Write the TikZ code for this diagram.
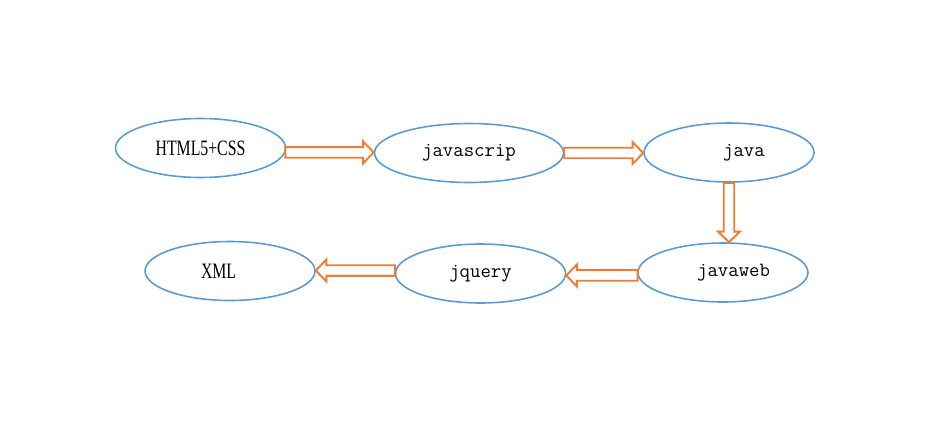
\documentclass[tikz,border=0pt]{standalone}
\usepackage{fontspec}
\usetikzlibrary{shapes.geometric,calc}
\newfontfamily\labelserif[FakeStretch=0.72]{Liberation Serif}
\definecolor{nodeblue}{HTML}{5B9BD5}
\definecolor{arroworange}{HTML}{ED7D31}
\begin{document}
\begin{tikzpicture}[
        x=0.02cm, y=-0.02cm,
        topic/.style={
            ellipse,
            draw=nodeblue,
            line width=0.9pt,
            minimum width=3.4cm,
            minimum height=1.18cm,
            inner sep=0pt,
            fill=white,
            font=\fontsize{11.5}{13}\ttfamily
        },
        serifname/.style={
            font=\fontsize{12.5}{14}\labelserif
        },
        padleft/.style={execute at begin node=\hspace*{#1}},
        padright/.style={execute at end node=\hspace*{#1}},
        blockarrow/.style={
            draw=arroworange,
            line width=1.1pt,
            fill=white,
            to path={
                let \p1=(\tikztostart), \p2=(\tikztotarget),
                    \n1={atan2(\y2-\y1,\x2-\x1)},
                    \n2={veclen(\x2-\x1,\y2-\y1)},
                    \n3={\n2-6pt}
                in [shift={(\p1)}, rotate=\n1]
                (0pt,-3pt) -- (\n3,-3pt) -- (\n3,-6.2pt) -- (\n2,0pt)
                -- (\n3,6.2pt) -- (\n3,3pt) -- (0pt,3pt) -- cycle
            }
        }
    ]

    \useasboundingbox (0,0) rectangle (926,436);

    \node[topic, serifname] (html) at (200.5,148) {HTML5+CSS};
    \node[topic, minimum width=3.78cm] (js) at (469,153) {javascrip};
    \node[topic, padleft=17pt] (java) at (729,152.5) {java};
    \node[topic, padleft=12pt] (javaweb) at (723,272.5) {javaweb};
    \node[topic] (jquery) at (480.5,273.5) {jquery};
    \node[topic, serifname, padright=13pt] (xml) at (230,271) {XML};

    \draw[blockarrow] (html.-3) to (html.-3 -| js.west);
    \draw[blockarrow] (js.east) to (js.east -| java.west);
    \draw[blockarrow] (java.south) to (java.south |- javaweb.north);
    \draw[blockarrow] (javaweb.182) to (javaweb.182 -| jquery.east);
    \draw[blockarrow] (jquery.178) to (jquery.178 -| xml.east);

\end{tikzpicture}
\end{document}
